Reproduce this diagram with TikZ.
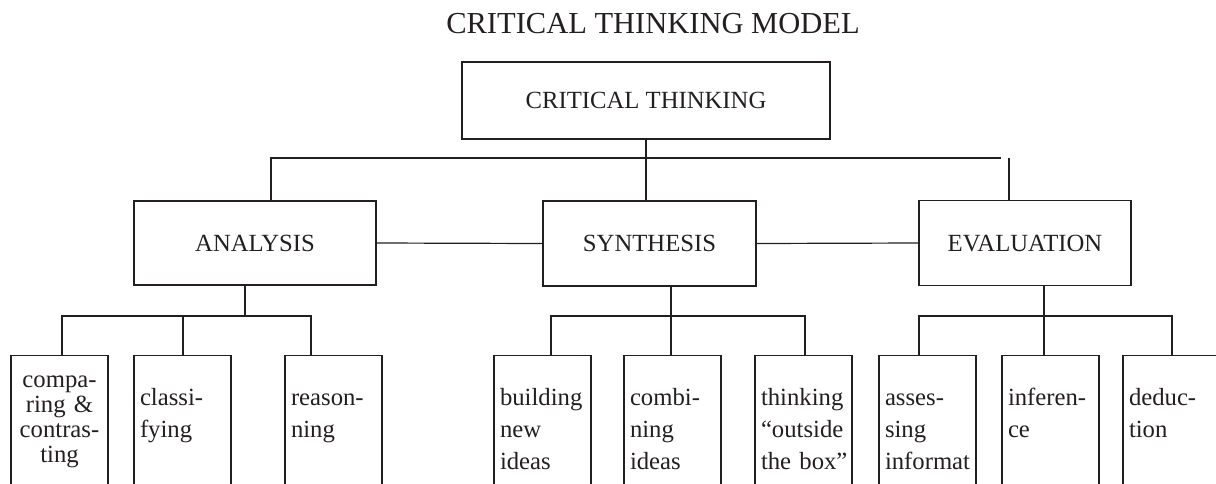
\documentclass[tikz,border=0pt]{standalone}
\usepackage{fontspec}
\setmainfont{Liberation Serif}
\usepackage{tikz}
\definecolor{ink}{HTML}{231F20}

\tikzset{
  box/.style={draw=ink,text=ink,line width=1.2pt,inner sep=0pt,text height=16.5pt,text depth=0pt,font=\fontsize{24.7}{30}\selectfont},
  leaf/.style={draw=ink,text=ink,line width=1.2pt,anchor=north,inner xsep=6pt,inner ysep=0pt,text width=85pt,align=left,text height=50pt,text depth=110pt,font=\fontsize{24.7}{32}\selectfont},
  link/.style={draw=ink,line width=1.2pt}
}

\begin{document}
\begin{tikzpicture}[x=1pt,y=-1pt]
	\clip (0,0) rectangle (1216,483);
	\node[text=ink,anchor=base,font=\fontsize{30.5}{36}\selectfont] (title) at (653,33.3) {CRITICAL THINKING MODEL};

	\node[box,minimum width=368pt,minimum height=77pt] (ct) at (646,100.5) {CRITICAL THINKING};
	\node[box,minimum width=242pt,minimum height=84pt] (ana) at (255,243) {ANALYSIS};
	\node[box,minimum width=213pt,minimum height=85pt] (syn) at (649.5,243.5) {SYNTHESIS};
	\node[box,minimum width=212pt,minimum height=85pt] (eva) at (1025,243) {EVALUATION};

	\node[leaf,align=center,text height=31.7pt,text depth=130pt,font=\fontsize{24.7}{25}\selectfont] (cmp) at (59.5,355) {compa-\\ring \&\\contras-\\ting};
	\node[leaf] (cls) at (182.5,355) {classi-\\fying};
	\node[leaf] (rsn) at (333.5,355) {reason-\\ning};
	\node[leaf] (bld) at (542.5,355) {building\\new\\ideas};
	\node[leaf] (cmb) at (672.5,355) {combi-\\ning\\ideas};
	\node[leaf] (thk) at (803.5,355) {thinking\\\mbox{“outside}\\\mbox{the box”}};
	\node[leaf] (ass) at (927.5,355) {asses-\\sing\\\mbox{informat}};
	\node[leaf] (inf) at (1050.5,355) {inferen-\\ce};
	\node[leaf] (ded) at (1171.5,355) {deduc-\\tion};

	\coordinate (tl) at (271,158);
	\coordinate (tr) at (1001,158);
	\coordinate (te) at (1009,158);
	\draw[link] (ct.south) -- (ct.south |- syn.north);
	\draw[link] (tl |- ana.north) -- (tl) -- (tr);
	\draw[link] (te) -- (te |- eva.north);
	\draw[link] (ana.east) -- (syn.west);
	\draw[link] (syn.east) -- (eva.west);

	\coordinate (a0) at (245,316);
	\coordinate (a1) at (62,316);
	\coordinate (a2) at (183,316);
	\coordinate (a3) at (311,316);
	\draw[link] (a0 |- ana.south) -- (a0);
	\draw[link] (a1 |- cmp.north) -- (a1) -- (a3) -- (a3 |- rsn.north);
	\draw[link] (a2) -- (a2 |- cls.north);

	\coordinate (s0) at (671,316);
	\coordinate (s1) at (551,316);
	\coordinate (s3) at (805,316);
	\draw[link] (s0 |- syn.south) -- (s0 |- cmb.north);
	\draw[link] (s1 |- bld.north) -- (s1) -- (s3) -- (s3 |- thk.north);

	\coordinate (e0) at (1044,316);
	\coordinate (e1) at (919,316);
	\coordinate (e3) at (1172,316);
	\draw[link] (e0 |- eva.south) -- (e0 |- inf.north);
	\draw[link] (e1 |- ass.north) -- (e1) -- (e3) -- (e3 |- ded.north);
\end{tikzpicture}
\end{document}
